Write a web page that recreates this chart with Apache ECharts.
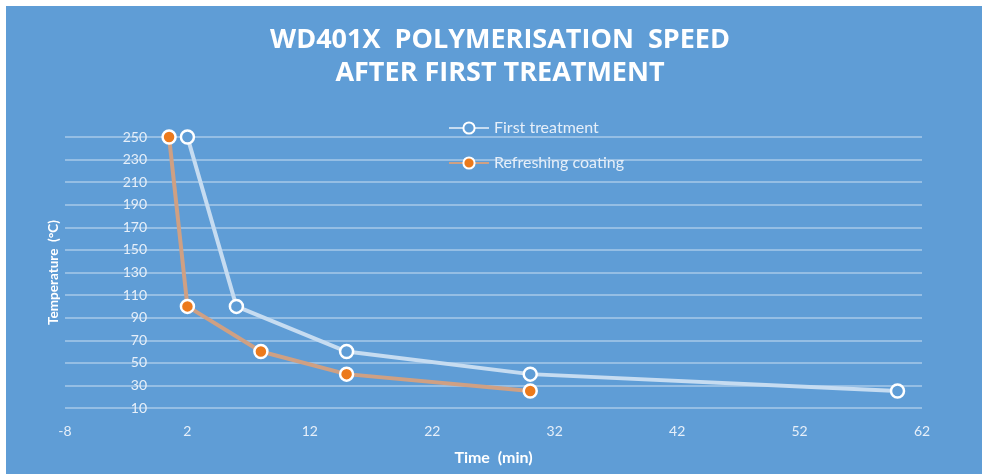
<!DOCTYPE html>
<html>
<head>
<meta charset="utf-8">
<script src="https://cdn.jsdelivr.net/npm/echarts@6/dist/echarts.min.js"></script>
<style>
  html, body { margin: 0; padding: 0; background: #ffffff; }
  #main { position: absolute; left: 6px; top: 6px; width: 976px; height: 468px; }
</style>
</head>
<body>
<div id="main"></div>
<script>
// time in minutes / temperature in °C
var firstTime = [2, 6, 15, 30, 60];
var firstTemp = [250, 100, 60, 40, 25];
var refreshTime = [0.5, 2, 8, 15, 30];
var refreshTemp = [250, 100, 60, 40, 25];
var xTicks = { min: -8, max: 62, step: 10 };
var yTicks = { min: 10, max: 250, step: 20 };

var pairs = function(xs, ys){
	return xs.map(function(x, i){ return [x, ys[i]]; });
};

var bg = '#5f9dd6';
var labelColor = '#e6eff9';
var font = 'Lato, "Open Sans", sans-serif';

var chart = echarts.init(document.getElementById('main'));
chart.setOption({
	backgroundColor: bg,
	animation: false,
	graphic: [{
		type: 'text', x: 494, y: 18,
		style: { text: 'WD401X  POLYMERISATION  SPEED\nAFTER FIRST TREATMENT', fill: '#ffffff',
			font: 'bold 27px "Open Sans", sans-serif', align: 'center', lineHeight: 33 }
	}],
	legend: {
		orient: 'vertical', left: 437, top: 109,
		itemWidth: 40, itemHeight: 14, itemGap: 19,
		textStyle: { color: labelColor, fontSize: 16, fontFamily: font },
		data: ['First treatment', 'Refreshing coating']
	},
	grid: { left: 59, right: 60, top: 131, bottom: 66, containLabel: false, outerBoundsMode: 'none' },
	xAxis: {
		type: 'value', min: xTicks.min, max: xTicks.max, interval: xTicks.step,
		name: 'Time  (min)', nameLocation: 'middle', nameGap: 42,
		nameTextStyle: { color: '#ffffff', fontWeight: 'bold', fontSize: 16, fontFamily: font },
		axisLine: { show: false, onZero: false },
		axisTick: { show: false },
		splitLine: { show: false },
		axisLabel: { color: labelColor, fontSize: 14, fontFamily: font, margin: 16 }
	},
	yAxis: {
		type: 'value', min: yTicks.min, max: yTicks.max, interval: yTicks.step,
		offset: -98,
		name: 'Temperature  (°C)', nameLocation: 'middle', nameGap: 102,
		nameTextStyle: { color: '#ffffff', fontWeight: 'bold', fontSize: 13.5, fontFamily: font },
		axisLine: { show: false, onZero: false },
		axisTick: { show: false },
		splitLine: { lineStyle: { color: 'rgba(255,255,255,0.34)', width: 2 } },
		axisLabel: { color: labelColor, fontSize: 14, fontFamily: font, margin: 16 }
	},
	series: [{
		name: 'First treatment', type: 'line',
		data: pairs(firstTime, firstTemp),
		symbol: 'circle', symbolSize: 13,
		itemStyle: { color: bg, borderColor: '#ffffff', borderWidth: 2.5 },
		lineStyle: { color: '#c6dcf1', width: 4 }
	}, {
		name: 'Refreshing coating', type: 'line',
		data: pairs(refreshTime, refreshTemp),
		symbol: 'circle', symbolSize: 13,
		itemStyle: { color: '#ec7a1c', borderColor: '#ffffff', borderWidth: 2.5 },
		lineStyle: { color: '#cfa083', width: 4 }
	}]
});
</script>
</body>
</html>
